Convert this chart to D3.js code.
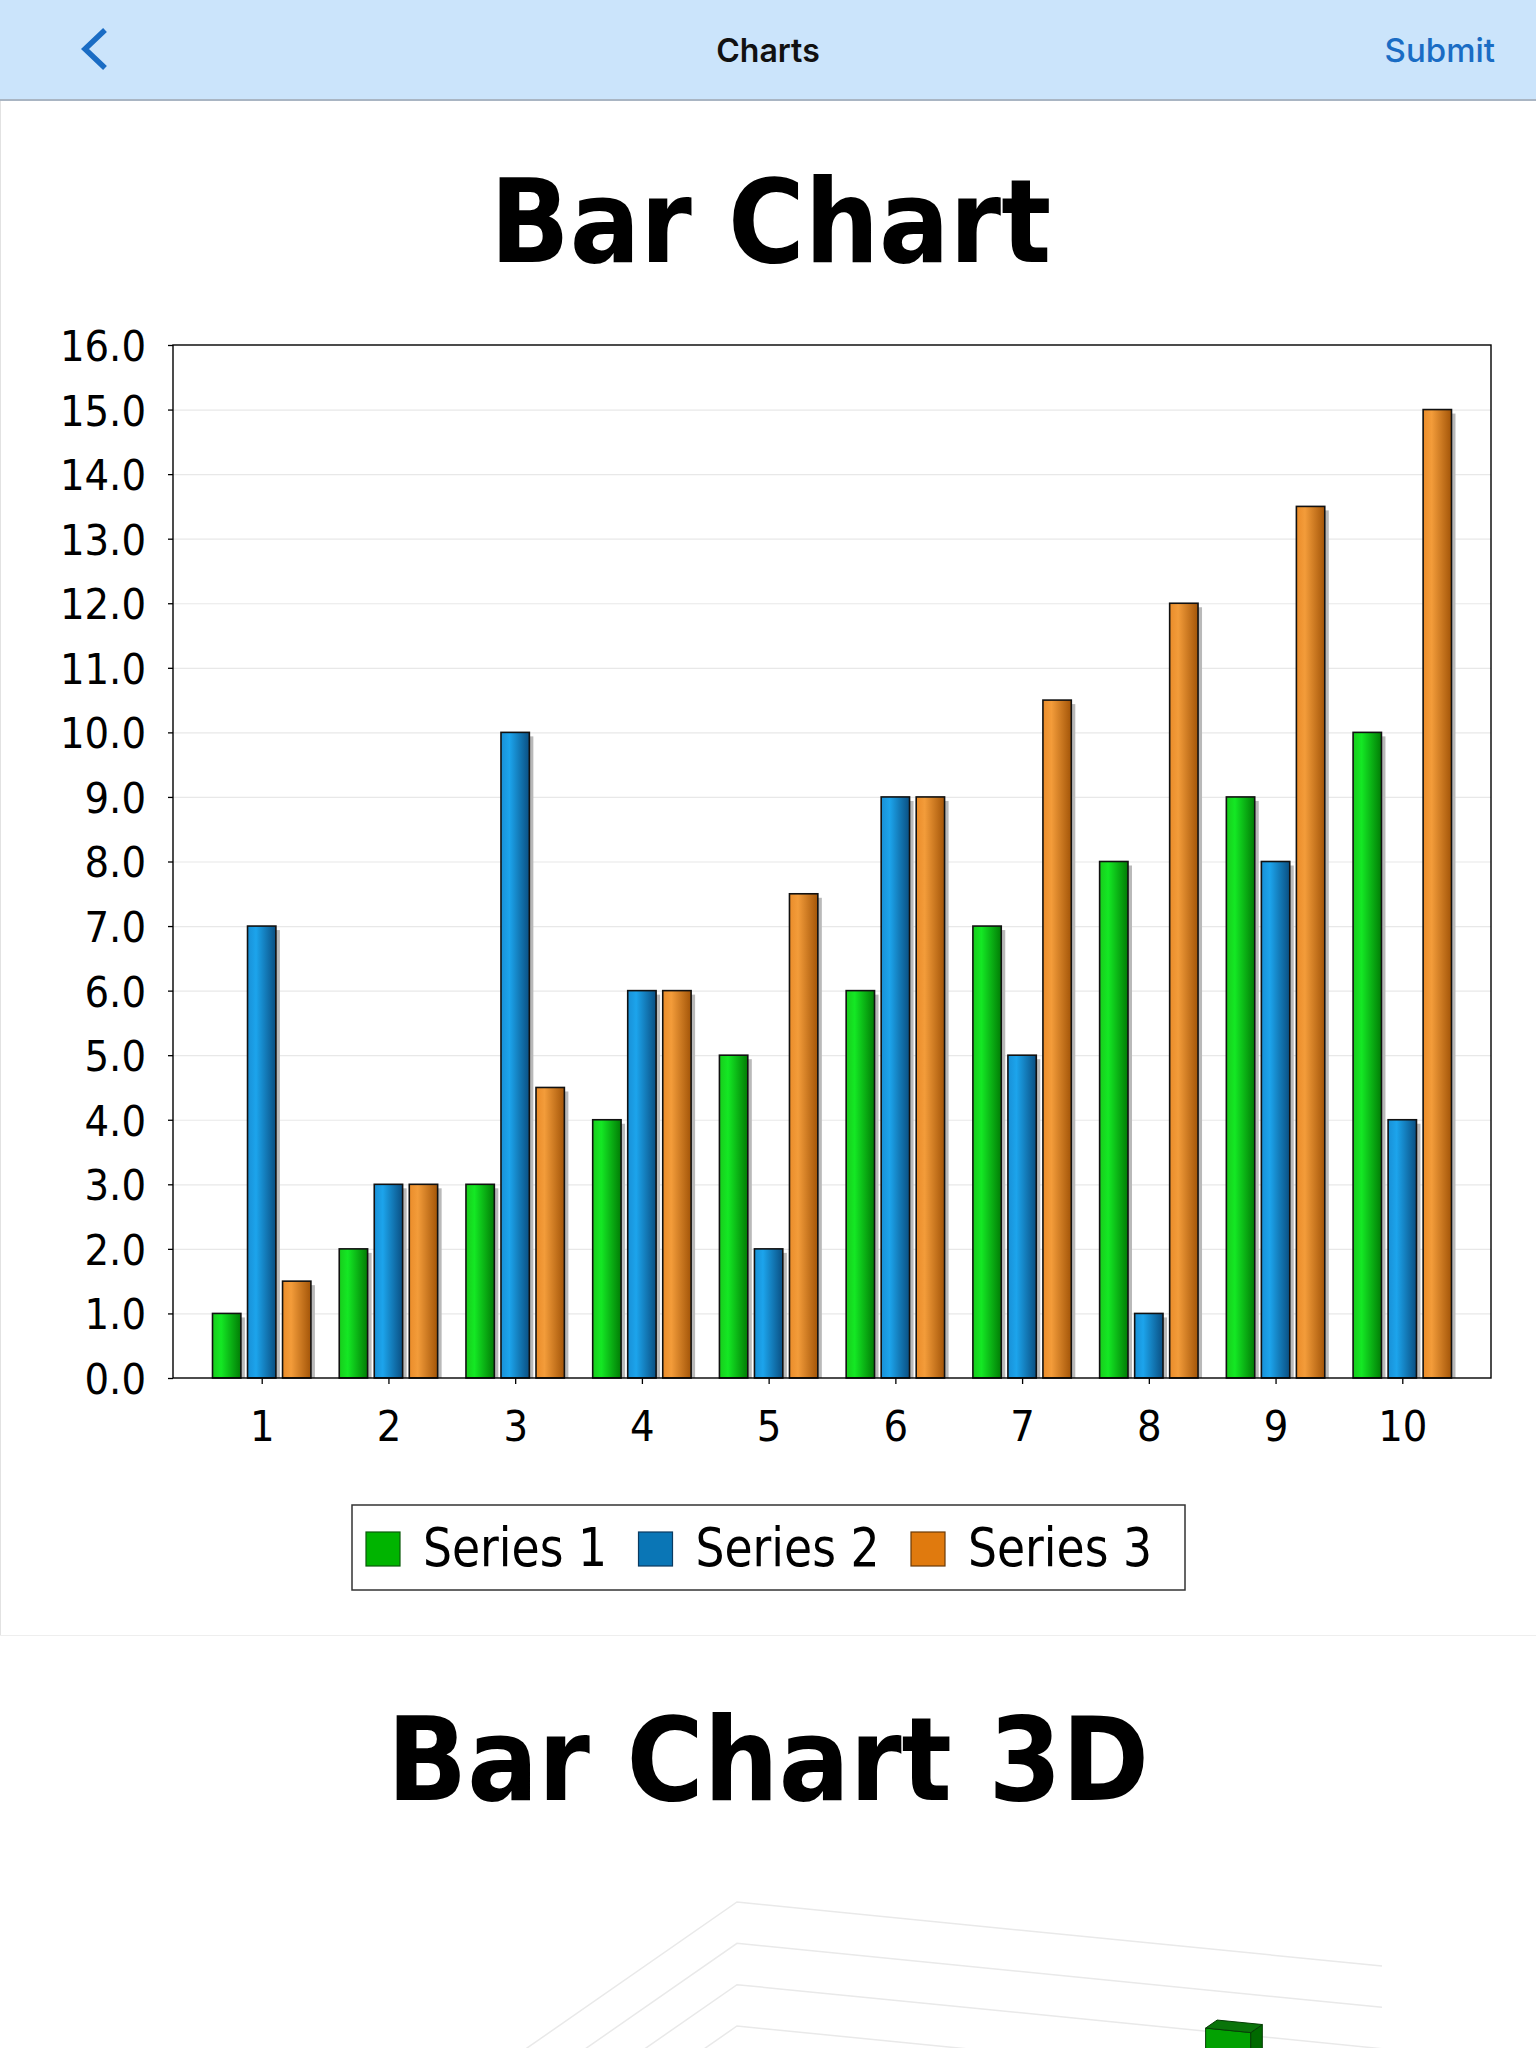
<!DOCTYPE html>
<html>
<head>
<meta charset="utf-8">
<script src="https://cdn.jsdelivr.net/npm/d3@7"></script>
<style>
  html, body { margin: 0; padding: 0; background: #fff; }
  svg { display: block; }
</style>
</head>
<body>
<svg id="chart" width="1536" height="2048"></svg>
<script>
// ---------- data ----------
const categories = ["1","2","3","4","5","6","7","8","9","10"];
const seriesNames = ["Series 1","Series 2","Series 3"];
const series1 = [1,2,3,4,5,6,7,8,9,10];
const series2 = [7,3,10,6,2,9,5,1,8,4];
const series3 = [1.5,3,4.5,6,7.5,9,10.5,12,13.5,15];
const yTicks = [0,1,2,3,4,5,6,7,8,9,10,11,12,13,14,15,16];
// partially visible 3D chart below (levels of its grid + the one visible bar)
const levels3D = [0,1,2,3];
const bar3D = [{u:0.777, v:0.1, h:1.7}];

const seriesData = [series1, series2, series3];
const colors = [
  {stops:["#18cc1c","#14e824","#017c05"], swatch:"#00b400", edge:"#0a5a0a"},
  {stops:["#1990d6","#1ca4ec","#0a4f82"], swatch:"#0a76b6", edge:"#0a3a60"},
  {stops:["#ea8c2a","#f39c3a","#a35508"], swatch:"#e07a0e", edge:"#6a3a08"}
];

const svg = d3.select("#chart");
const defs = svg.append("defs");
colors.forEach((c,i) => {
  const g = defs.append("linearGradient").attr("id","grad"+i)
    .attr("x1","0").attr("x2","1").attr("y1","0").attr("y2","0");
  g.append("stop").attr("offset","0").attr("stop-color",c.stops[0]);
  g.append("stop").attr("offset","0.3").attr("stop-color",c.stops[1]);
  g.append("stop").attr("offset","1").attr("stop-color",c.stops[2]);
});

// ---------- header ----------
svg.append("rect").attr("x",0).attr("y",0).attr("width",1536).attr("height",100).attr("fill","#cbe4fb");
svg.append("rect").attr("x",0).attr("y",99).attr("width",1536).attr("height",2).attr("fill","#a9b5c3");
svg.append("polyline").attr("points","105,30 85,49 105,68")
  .attr("fill","none").attr("stroke","#1a6cc4").attr("stroke-width",5.5).attr("stroke-linecap","butt");
svg.append("text").attr("x",768).attr("y",61.5).attr("text-anchor","middle")
  .attr("font-family","Inter, 'Noto Sans', sans-serif").attr("font-weight",600).attr("font-size",32)
  .attr("fill","#111").text("Charts");
svg.append("text").attr("x",1495).attr("y",61.5).attr("text-anchor","end")
  .attr("font-family","Inter, 'Noto Sans', sans-serif").attr("font-weight",500).attr("font-size",33)
  .attr("fill","#1a6cc4").text("Submit");

// page edges
svg.append("line").attr("x1",0.5).attr("x2",0.5).attr("y1",101).attr("y2",1635).attr("stroke","#e2e2e2");
svg.append("line").attr("x1",0).attr("x2",1536).attr("y1",1635.5).attr("y2",1635.5).attr("stroke","#eeeeee");

// ---------- title ----------
const titleFont = "'DejaVu Sans Condensed', 'DejaVu Sans', sans-serif";
svg.append("text").attr("x",770.6).attr("y",262).attr("text-anchor","middle")
  .attr("font-family",titleFont).attr("font-weight","bold").attr("font-size",116)
  .attr("textLength",561).attr("lengthAdjust","spacingAndGlyphs")
  .text("Bar Chart");

// ---------- chart ----------
const L = 173, R = 1491, T = 345, B = 1378;
const y = d3.scaleLinear().domain([0,16]).range([B,T]);
const x = d3.scalePoint().domain(categories).range([L,R]).padding(0.7);
const xs = d3.scaleBand().domain(seriesNames).range([-49.2,49.2]).paddingInner(0.19);

// grid
svg.append("g").selectAll("line").data(yTicks.filter(d => d>0 && d<16)).join("line")
  .attr("x1",L).attr("x2",R).attr("y1",d=>y(d)+0.5).attr("y2",d=>y(d)+0.5)
  .attr("stroke","#e8e8e8").attr("stroke-width",1.2);

// axes
const yAxis = d3.axisLeft(y).tickValues(yTicks).tickSize(5).tickPadding(22)
  .tickFormat(d3.format(".1f"));
const gy = svg.append("g").attr("transform",`translate(${L},0)`).call(yAxis);
gy.select(".domain").remove();
gy.selectAll(".tick line").attr("stroke","#000").attr("stroke-width",1.3);
gy.selectAll(".tick text").attr("font-family","'DejaVu Sans Condensed', 'DejaVu Sans', sans-serif")
  .attr("font-size",43).attr("fill","#000").attr("dy","0.36em");

const xAxis = d3.axisBottom(x).tickSize(6).tickPadding(0);
const gx = svg.append("g").attr("transform",`translate(0,${B})`).call(xAxis);
gx.select(".domain").remove();
gx.selectAll(".tick line").attr("stroke","#000").attr("stroke-width",1.3);
gx.selectAll(".tick text").attr("font-family","'DejaVu Sans Condensed', 'DejaVu Sans', sans-serif")
  .attr("font-size",43).attr("fill","#000").attr("dy",0).attr("y",63);

// bars
const flat = [];
seriesData.forEach((arr,si) => arr.forEach((v,ci) => flat.push({s:seriesNames[si], si, c:categories[ci], v})));
const gb = svg.append("g");
gb.selectAll("rect.shadow").data(flat).join("rect").attr("class","shadow")
  .attr("x",d=>x(d.c)+xs(d.s)+4).attr("y",d=>y(d.v)+4)
  .attr("width",xs.bandwidth()).attr("height",d=>B-y(d.v)-4)
  .attr("fill","#b9b9b9");
gb.selectAll("rect.bar").data(flat).join("rect").attr("class","bar")
  .attr("x",d=>x(d.c)+xs(d.s)).attr("y",d=>y(d.v))
  .attr("width",xs.bandwidth()).attr("height",d=>B-y(d.v))
  .attr("fill",d=>`url(#grad${d.si})`).attr("stroke","#111").attr("stroke-width",1.6);

// frame
svg.append("rect").attr("x",L).attr("y",T).attr("width",R-L).attr("height",B-T)
  .attr("fill","none").attr("stroke","#000").attr("stroke-width",1.4);

// ---------- legend ----------
svg.append("rect").attr("x",352).attr("y",1505).attr("width",833).attr("height",85)
  .attr("fill","#fff").attr("stroke","#333").attr("stroke-width",1.5);
const legendX = d3.scalePoint().domain(seriesNames).range([366,911]);
const lg = svg.append("g").selectAll("g").data(seriesNames).join("g")
  .attr("transform",d=>`translate(${legendX(d)},0)`);
lg.append("rect").attr("x",0).attr("y",1532).attr("width",34).attr("height",34)
  .attr("fill",(d,i)=>colors[i].swatch).attr("stroke",(d,i)=>colors[i].edge).attr("stroke-width",1.2);
lg.append("text").attr("x",57).attr("y",1566)
  .attr("font-family","'DejaVu Sans Condensed', 'DejaVu Sans', sans-serif")
  .attr("font-size",54).attr("textLength",184).attr("lengthAdjust","spacingAndGlyphs")
  .attr("fill","#000").text(d=>d);

// ---------- second title ----------
svg.append("text").attr("x",768).attr("y",1800).attr("text-anchor","middle")
  .attr("font-family",titleFont).attr("font-weight","bold").attr("font-size",116)
  .attr("textLength",762).attr("lengthAdjust","spacingAndGlyphs")
  .text("Bar Chart 3D");

// ---------- partially visible 3D chart ----------
const h3 = d3.scaleLinear().domain([0,3]).range([2026,1902]);
const P = (u,v,h) => [737 + u*645 - v*210, h3(h) + u*64 + v*146];
const g3 = svg.append("g");
g3.selectAll("path.grid").data(levels3D).join("path").attr("class","grid")
  .attr("d",d => d3.line()([P(0,1.5,d), P(0,0,d), P(1,0,d)]))
  .attr("fill","none").attr("stroke","#e9e9e9").attr("stroke-width",1.5);
bar3D.forEach(b => {
  const du = 0.07, dv = 0.055;
  const tbl = P(b.u,b.v,b.h), tbr = P(b.u+du,b.v,b.h);
  const tfl = P(b.u,b.v+dv,b.h), tfr = P(b.u+du,b.v+dv,b.h);
  const bfl = P(b.u,b.v+dv,0), bfr = P(b.u+du,b.v+dv,0), bbr = P(b.u+du,b.v,0);
  g3.append("path").attr("d",d3.line()([tfl,tfr,bfr,bfl])+"Z").attr("fill","#02a102").attr("stroke","#063f06").attr("stroke-width",1);
  g3.append("path").attr("d",d3.line()([tfr,tbr,bbr,bfr])+"Z").attr("fill","#006a00").attr("stroke","#063f06").attr("stroke-width",1);
  g3.append("path").attr("d",d3.line()([tbl,tbr,tfr,tfl])+"Z").attr("fill","#0a740a").attr("stroke","#063f06").attr("stroke-width",1);
});
</script>
</body>
</html>
